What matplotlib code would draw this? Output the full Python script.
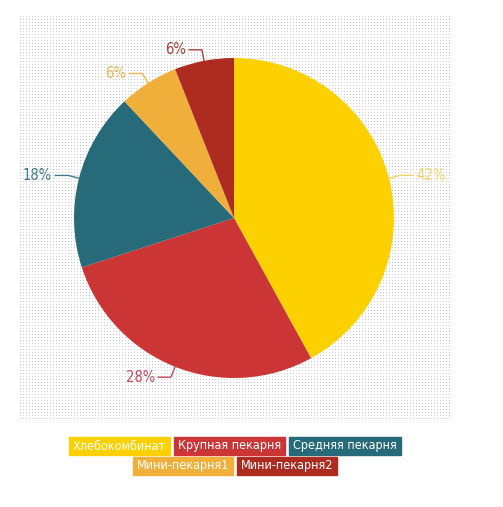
import numpy as np
import matplotlib
matplotlib.use("Agg")
import matplotlib.pyplot as plt

names = ['Хлебокомбинат', 'Крупная пекарня', 'Средняя пекарня', 'Мини-пекарня1', 'Мини-пекарня2']
shares = [42, 28, 18, 6, 6]
colors = ['#fdd000', '#cc3535', '#276a79', '#efaf3a', '#ae2b20']
label_colors = ['#f3d26a', '#c44a5c', '#3f7a8c', '#f0b54f', '#a8423c']

plt.rcParams['font.family'] = ['DejaVu Sans']
plt.rcParams['font.stretch'] = 'condensed'

W, H = 503, 507
fig = plt.figure(figsize=(W / 100, H / 100), dpi=100)

# dotted background (image rows go top to bottom)
bg = np.zeros((H, W, 4))
ys = np.arange(16, 419, 3)
xs = np.arange(20, 451, 3)
for y in ys:
    bg[y, xs, :3] = 0.80
    bg[y, xs, 3] = 1
fig.figimage(bg, 0, 0, zorder=0, origin='upper')

# pie axes: centre (234,218) px, radius 159 px
cx, cy, r = 234, 218, 159
half = 200
ax = fig.add_axes([(cx - half) / W, (H - cy - half) / H, 2 * half / W, 2 * half / H])
ax.set_zorder(2)
ax.set_xlim(-half / r, half / r)
ax.set_ylim(-half / r, half / r)
ax.set_aspect('equal')
ax.axis('off')
ax.patch.set_alpha(0)

wedges, _ = ax.pie(shares, colors=colors, startangle=90, counterclock=False,
                   radius=1, wedgeprops=dict(linewidth=0))

cum = np.cumsum([0] + shares)
for i, v in enumerate(shares):
    a = np.deg2rad((cum[i] + v / 2) / 100 * 360)
    sx, sy = np.sin(a), np.cos(a)
    p0 = (sx, sy)
    p1 = (sx * 1.07, sy * 1.07)
    side = 1 if sx > 0 else -1
    p2 = (p1[0] + side * 0.08, p1[1])
    ax.plot([p0[0], p1[0], p2[0]], [p0[1], p1[1], p2[1]], color=label_colors[i], lw=1)
    ax.text(p2[0] + side * 0.02, p2[1], f'{v}%', color=label_colors[i], fontsize=10.5,
            ha='left' if side > 0 else 'right', va='center')

# legend boxes, centred under the pie
fig.canvas.draw()
renderer = fig.canvas.get_renderer()
rows = [[0, 1, 2], [3, 4]]
row_y = [446, 466]
gap = 4
pad = 4
fs = 9
for row, yy in zip(rows, row_y):
    widths = []
    for i in row:
        t = fig.text(0, 0, names[i], fontsize=fs)
        widths.append(t.get_window_extent(renderer).width + 2 * pad)
        t.remove()
    total = sum(widths) + gap * (len(row) - 1)
    x = 235 - total / 2
    for i, w in zip(row, widths):
        fig.patches.append(plt.Rectangle((x / W, (H - yy - 9) / H), w / W, 18 / H,
                                         transform=fig.transFigure, color=colors[i], figure=fig))
        fig.text((x + w / 2) / W, (H - yy) / H, names[i], color='white', fontsize=fs,
                 ha='center', va='center')
        x += w + gap

fig.savefig('out.png', dpi=100)
